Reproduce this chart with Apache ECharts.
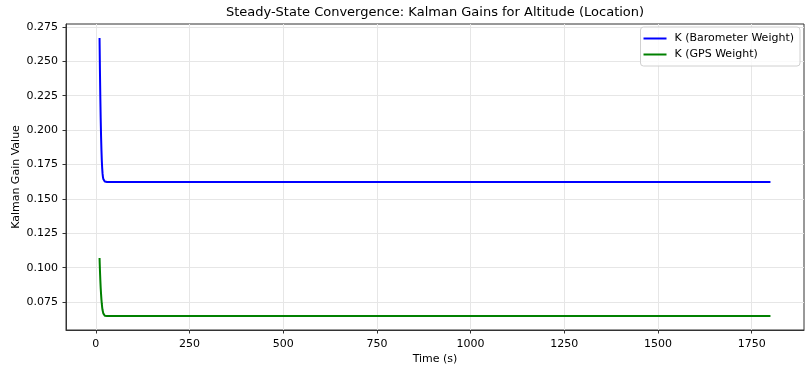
<!DOCTYPE html>
<html>
<head>
<meta charset="utf-8">
<script src="https://cdn.jsdelivr.net/npm/echarts@6/dist/echarts.min.js"></script>
<style>
html,body{margin:0;padding:0;background:#fff;}
#chart{width:805px;height:367px;}
</style>
</head>
<body>
<div id="chart"></div>
<script>
// Data
const timeSec = [10, 11, 12, 13, 14, 15, 16, 17, 18, 19, 20, 22, 24, 27, 30, 1800];
const kBarometer = [0.267, 0.244, 0.225, 0.209, 0.196, 0.186, 0.178, 0.1725, 0.1685, 0.166, 0.1645, 0.1632, 0.1626, 0.1622, 0.1622, 0.1622];
const kGps = [0.107, 0.0985, 0.0915, 0.0855, 0.081, 0.077, 0.0738, 0.0712, 0.0692, 0.0678, 0.0668, 0.0656, 0.0651, 0.0648, 0.0648, 0.0648];
const xTicks = [0, 250, 500, 750, 1000, 1250, 1500, 1750];
const yTicks = [0.075, 0.100, 0.125, 0.150, 0.175, 0.200, 0.225, 0.250, 0.275];
const seriesNames = ['K (Barometer Weight)', 'K (GPS Weight)'];

const FONT = 'DejaVu Sans';
const chart = echarts.init(document.getElementById('chart'), null, {renderer: 'canvas'});

function pairs(xs, ys) { return xs.map((x, i) => [x, ys[i]]); }

const gridLine = {show: true, lineStyle: {color: '#e6e6e6', width: 1}};

chart.setOption({
  animation: false,
  backgroundColor: '#fff',
  textStyle: {fontFamily: FONT},
  title: {
    text: 'Steady-State Convergence: Kalman Gains for Altitude (Location)',
    left: 435, textAlign: 'center', top: 6, padding: 0,
    textStyle: {fontFamily: FONT, fontSize: 13, fontWeight: 'normal', color: '#000'}
  },
  legend: {
    orient: 'vertical', right: 5, top: 27,
    padding: [6, 6, 6, 3],
    itemGap: 5, itemWidth: 23, itemHeight: 2,
    icon: 'rect',
    backgroundColor: 'rgba(255,255,255,0.8)',
    borderColor: '#d0d0d0', borderWidth: 1, borderRadius: 3,
    textStyle: {fontFamily: FONT, fontSize: 11, color: '#000', padding: [0, 0, 0, 3]},
    data: seriesNames
  },
  grid: {
    left: 66, right: 1, top: 24, bottom: 37,
    show: true, borderColor: '#333', borderWidth: 1,
    containLabel: false, outerBoundsMode: 'none'
  },
  xAxis: {
    type: 'value', min: -79.5, max: 1889.5,
    name: 'Time (s)', nameLocation: 'middle', nameGap: 24, nameMoveOverlap: false,
    nameTextStyle: {fontFamily: FONT, fontSize: 11, color: '#000'},
    axisLine: {show: true, onZero: false, lineStyle: {color: '#333', width: 1}},
    axisTick: {show: true, length: 3.5, lineStyle: {color: '#333'}, customValues: xTicks},
    axisLabel: {fontFamily: FONT, fontSize: 11, color: '#000', margin: 9, customValues: xTicks,
      formatter: v => String(v)},
    splitLine: gridLine
  },
  yAxis: {
    type: 'value', min: 0.0547, max: 0.2771,
    name: 'Kalman Gain Value', nameLocation: 'middle', nameGap: 44, nameMoveOverlap: false,
    nameTextStyle: {fontFamily: FONT, fontSize: 11, color: '#000'},
    axisLine: {show: true, onZero: false, lineStyle: {color: '#333', width: 1}},
    axisTick: {show: true, length: 3.5, lineStyle: {color: '#333'}, customValues: yTicks},
    axisLabel: {fontFamily: FONT, fontSize: 11, color: '#000', margin: 8, customValues: yTicks,
      formatter: v => v.toFixed(3)},
    splitLine: gridLine
  },
  series: [
    {
      name: seriesNames[0], type: 'line', data: pairs(timeSec, kBarometer),
      showSymbol: false, symbol: 'none', smooth: false,
      lineStyle: {color: '#0000ff', width: 2}, itemStyle: {color: '#0000ff'}
    },
    {
      name: seriesNames[1], type: 'line', data: pairs(timeSec, kGps),
      showSymbol: false, symbol: 'none', smooth: false,
      lineStyle: {color: '#008000', width: 2}, itemStyle: {color: '#008000'}
    }
  ]
});
</script>
</body>
</html>
